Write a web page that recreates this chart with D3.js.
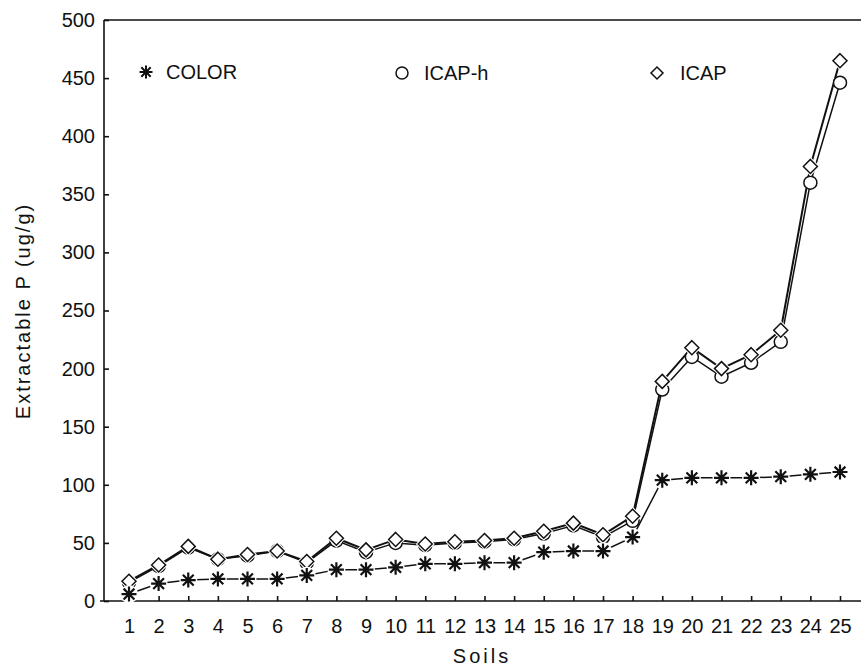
<!DOCTYPE html>
<html lang="en">
<head>
    <meta charset="UTF-8">
    <title>Extractable P by soil</title>
    <script src="https://cdnjs.cloudflare.com/ajax/libs/d3/7.8.5/d3.min.js"></script>
    <style>
        body {
            margin: 0;
            background-color: #ffffff;
        }
        svg text {
            font-family: 'Liberation Sans', Arial, sans-serif;
            fill: #111;
        }
        .axis path, .axis line {
            stroke: #111;
            stroke-width: 1.6px;
        }
        .axis text {
            font-size: 20px;
        }
    </style>
</head>
<body>
    <div id="chart"></div>
    <script>
        // values
        const soils = [1, 2, 3, 4, 5, 6, 7, 8, 9, 10, 11, 12, 13, 14, 15, 16, 17, 18, 19, 20, 21, 22, 23, 24, 25];
        const color = [6, 15, 18, 19, 19, 19, 22, 27, 27, 29, 32, 32, 33, 33, 42, 43, 43, 55, 104, 106, 106, 106, 107, 109, 111];
        const icapH = [16, 30, 46, 36, 39, 43, 33, 52, 42, 50, 48, 50, 51, 53, 58, 65, 55, 69, 182, 210, 193, 205, 223, 360, 446];
        const icap = [17, 31, 47, 36, 40, 43, 34, 54, 44, 53, 49, 51, 52, 54, 60, 67, 57, 73, 189, 218, 200, 212, 233, 374, 465];
        const yTicks = [0, 50, 100, 150, 200, 250, 300, 350, 400, 450, 500];

        const width = 861;
        const height = 668;

        const svg = d3.select("#chart")
            .append("svg")
            .attr("width", width)
            .attr("height", height);

        const x = d3.scaleLinear().domain([1, 25]).range([129, 840]);
        const y = d3.scaleLinear().domain([0, 500]).range([601, 20]);
        const left = 104;

        // axes, ticks pointing inward
        svg.append("g")
            .attr("class", "axis")
            .attr("transform", `translate(${left},0)`)
            .call(d3.axisLeft(y).tickValues(yTicks).tickSizeInner(-5).tickSizeOuter(0).tickPadding(9))
            .call(g => g.select(".domain").remove());

        svg.append("g")
            .attr("class", "axis")
            .attr("transform", `translate(0,${y(0)})`)
            .call(d3.axisBottom(x).tickValues(soils).tickFormat(d3.format("d")).tickSizeInner(-5).tickSizeOuter(0).tickPadding(18))
            .call(g => g.select(".domain").remove());

        // frame: left axis, bottom axis, top border
        const frame = svg.append("g").attr("stroke", "#111").attr("stroke-width", 1.6);
        frame.append("line").attr("x1", left).attr("x2", left).attr("y1", y(500)).attr("y2", y(0));
        frame.append("line").attr("x1", 100).attr("x2", width).attr("y1", y(0)).attr("y2", y(0));
        frame.append("line").attr("x1", left).attr("x2", width).attr("y1", y(500)).attr("y2", y(500));

        // axis titles
        svg.append("text")
            .attr("x", 482)
            .attr("y", 663)
            .attr("text-anchor", "middle")
            .style("font-size", "20px")
            .style("letter-spacing", "3px")
            .text("Soils");

        svg.append("text")
            .attr("transform", "translate(30,311) rotate(-90)")
            .attr("text-anchor", "middle")
            .style("font-size", "20px")
            .style("letter-spacing", "2px")
            .text("Extractable P (ug/g)");

        // marker shapes
        const diamond = s => `M0,${-s}L${s},0L0,${s}L${-s},0Z`;
        const star = s => {
            const d = s * 0.72;
            return `M${-s},0L${s},0M0,${-s}L0,${s}M${-d},${-d}L${d},${d}M${-d},${d}L${d},${-d}`;
        };

        const line = vals => d3.line()
            .x((d, i) => x(soils[i]))
            .y(d => y(d))(vals);

        svg.append("path").attr("d", line(icapH))
            .attr("fill", "none").attr("stroke", "#111").attr("stroke-width", 1.5);
        svg.append("path").attr("d", line(icap))
            .attr("fill", "none").attr("stroke", "#111").attr("stroke-width", 2);
        svg.append("path").attr("d", line(color))
            .attr("fill", "none").attr("stroke", "#111").attr("stroke-width", 1.5);

        // ICAP-h circles
        svg.append("g").selectAll("circle")
            .data(icapH)
            .join("circle")
            .attr("cx", (d, i) => x(soils[i]))
            .attr("cy", d => y(d))
            .attr("r", 6.5)
            .attr("fill", "#fff")
            .attr("stroke", "#111")
            .attr("stroke-width", 1.5);

        // ICAP diamonds, white halo gives the gap in the lines
        const dg = svg.append("g").selectAll("g")
            .data(icap)
            .join("g")
            .attr("transform", (d, i) => `translate(${x(soils[i])},${y(d)})`);
        dg.append("path").attr("d", diamond(9.5)).attr("fill", "#fff");
        dg.append("path").attr("d", diamond(7))
            .attr("fill", "#fff").attr("stroke", "#111").attr("stroke-width", 1.5);

        // COLOR asterisks
        const sg = svg.append("g").selectAll("g")
            .data(color)
            .join("g")
            .attr("transform", (d, i) => `translate(${x(soils[i])},${y(d)})`);
        sg.append("circle").attr("r", 9).attr("fill", "#fff");
        sg.append("path").attr("d", star(7.5))
            .attr("fill", "none").attr("stroke", "#111").attr("stroke-width", 2.2);

        // legend
        const legend = svg.append("g");
        legend.append("path")
            .attr("transform", "translate(146,72)")
            .attr("d", star(6.5))
            .attr("fill", "none").attr("stroke", "#111").attr("stroke-width", 2);
        legend.append("text").attr("x", 166).attr("y", 79).style("font-size", "20px").text("COLOR");

        legend.append("circle")
            .attr("cx", 402).attr("cy", 73).attr("r", 6)
            .attr("fill", "#fff").attr("stroke", "#111").attr("stroke-width", 1.5);
        legend.append("text").attr("x", 424).attr("y", 80).style("font-size", "20px").text("ICAP-h");

        legend.append("path")
            .attr("transform", "translate(657,73)")
            .attr("d", diamond(6))
            .attr("fill", "#fff").attr("stroke", "#111").attr("stroke-width", 1.5);
        legend.append("text").attr("x", 680).attr("y", 80).style("font-size", "20px").text("ICAP");
    </script>
</body>
</html>
